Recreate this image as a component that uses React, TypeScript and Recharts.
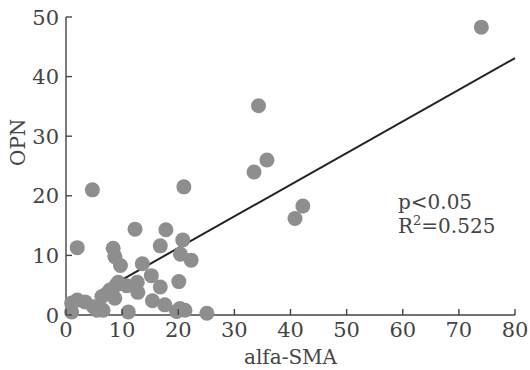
import * as React from 'react';
import { ScatterChart, Scatter, XAxis, YAxis } from 'recharts';

// alfa-SMA (x) vs OPN (y)
const SMA = [
  1, 1, 2, 3.4, 4.9, 5.5, 6.4, 6.6, 7.3, 7.8, 8.7, 9.3, 8.9, 10.8, 11.1, 12.7, 12.8, 13.6, 15.2, 15.4,
  16.8, 17.6, 19.7, 20.3, 21.2, 25.1, 20.1, 22.3, 20.4, 20.8, 16.8, 17.8, 12.3, 8.4, 8.7, 9.7, 2, 4.7,
  21, 33.5, 35.8, 34.3, 40.8, 42.2, 74,
];
const OPN = [
  0.5, 2, 2.5, 2.2, 1.4, 0.8, 3.1, 0.8, 3.6, 4.2, 2.8, 5.5, 5.0, 4.9, 0.5, 5.5, 3.8, 8.6, 6.6, 2.4,
  4.7, 1.7, 0.6, 1.1, 0.8, 0.3, 5.6, 9.2, 10.2, 12.6, 11.6, 14.3, 14.4, 11.2, 9.8, 8.3, 11.3, 21,
  21.5, 24, 26, 35.1, 16.2, 18.3, 48.3,
];
// fitted regression line end points
const FIT_X = [9, 80];
const FIT_Y = [5.4, 43.1];

const X_TICKS = [0, 10, 20, 30, 40, 50, 60, 70, 80];
const Y_TICKS = [0, 10, 20, 30, 40, 50];

const points = SMA.map((x, i) => ({ x, y: OPN[i] }));
const fit = FIT_X.map((x, i) => ({ x, y: FIT_Y[i] }));

const FONT = '"DejaVu Serif", serif';
const INK = '#444';
const MARGIN = 7;

function XTick(props: any) {
  const { x, y, payload } = props;
  const ay = y - MARGIN;
  return (
    <g>
      <line x1={x} y1={ay} x2={x} y2={ay - 6} stroke={INK} strokeWidth={1.4} />
      <text x={x} y={y} dy="0.71em" textAnchor="middle" fill={INK} fontSize={21} fontFamily={FONT}>
        {payload.value}
      </text>
    </g>
  );
}

function YTick(props: any) {
  const { x, y, payload } = props;
  const ax = x + MARGIN;
  return (
    <g>
      <line x1={ax} y1={y} x2={ax + 6} y2={y} stroke={INK} strokeWidth={1.4} />
      <text x={x} y={y} dy="0.36em" textAnchor="end" fill={INK} fontSize={21} fontFamily={FONT}>
        {payload.value}
      </text>
    </g>
  );
}

const Dot = (props: any) => <circle cx={props.cx} cy={props.cy} r={7.5} fill="#8e8e8e" />;

export default function App() {
  return (
    <div style={{ position: 'absolute', left: 0, top: 0, background: '#fff' }}>
      <ScatterChart width={530} height={370} margin={{ top: 17, right: 15, bottom: 25, left: 26 }}>
        <XAxis
          type="number"
          dataKey="x"
          domain={[0, 80]}
          ticks={X_TICKS}
          height={30}
          tickSize={0}
          tickMargin={MARGIN}
          tick={<XTick />}
          axisLine={{ stroke: INK, strokeWidth: 1.4 }}
          label={{ value: 'alfa-SMA', position: 'insideBottom', offset: -19, fill: INK, fontSize: 20, fontFamily: FONT }}
        />
        <YAxis
          type="number"
          dataKey="y"
          domain={[0, 50]}
          ticks={Y_TICKS}
          width={40}
          tickSize={0}
          tickMargin={MARGIN}
          tick={<YTick />}
          axisLine={{ stroke: INK, strokeWidth: 1.4 }}
          label={{ value: 'OPN', angle: -90, position: 'insideLeft', offset: -8, fill: INK, fontSize: 20, fontFamily: FONT }}
        />
        <Scatter data={fit} line={{ stroke: '#222', strokeWidth: 2 }} shape={() => null} isAnimationActive={false} />
        <Scatter data={points} shape={<Dot />} isAnimationActive={false} />
        <text x={398} y={209} fill={INK} fontSize={20} fontFamily={FONT}>p&lt;0.05</text>
        <text x={398} y={233} fill={INK} fontSize={20} fontFamily={FONT}>
          R<tspan dy={-8} fontSize={13}>2</tspan><tspan dy={8}>=0.525</tspan>
        </text>
      </ScatterChart>
    </div>
  );
}
